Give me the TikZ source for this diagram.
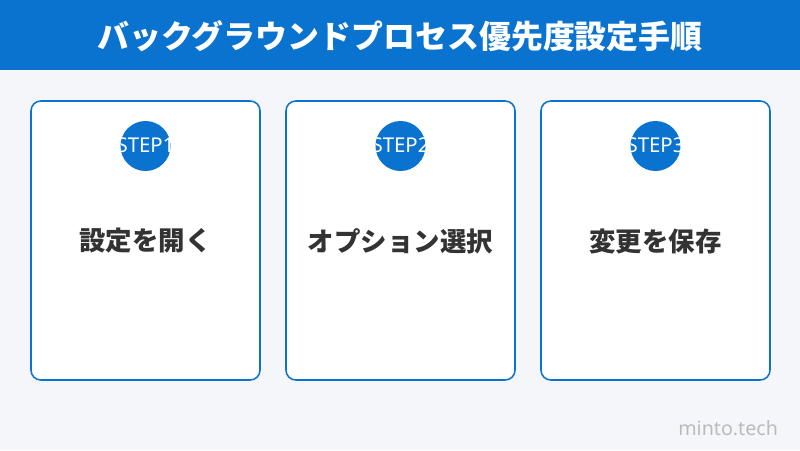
\documentclass[tikz,border=0pt]{standalone}
\usepackage{fontspec}
\setmainfont{Noto Sans CJK JP}
\newfontfamily\stepfont{Noto Sans}
\usetikzlibrary{positioning}
\definecolor{mainblue}{HTML}{0A73D0}
\definecolor{bggray}{HTML}{F4F6FA}
\definecolor{textdark}{HTML}{333333}
\definecolor{markgray}{HTML}{BBBBBB}
\tikzset{
  card/.style={draw=mainblue, line width=1.1pt, fill=white, rounded corners=7pt},
  stepdot/.style={circle, fill=mainblue, minimum size=50*0.025cm, inner sep=0pt},
  cardlabel/.style={font=\fontsize{18.8}{22}\selectfont\bfseries, text=textdark}
}
\begin{document}
\begin{tikzpicture}[x=0.025cm, y=-0.025cm]

  % background
  \fill[bggray] (0,0) rectangle (800,450);
  \useasboundingbox (0,0) rectangle (800,450);

  % title bar
  \fill[mainblue] (0,0) rectangle (800,70);
  \node[font=\fontsize{22.7}{26}\selectfont\bfseries, text=white] (title) at (400,36)
    {バックグラウンドプロセス優先度設定手順};

  % three step cards
  \foreach \i/\x/\txt in {1/31/設定を開く, 2/286/オプション選択, 3/541/変更を保存}{
    \draw[card] (\x,101) rectangle ++(229,279);
    \node[stepdot] (step\i) at (\x+114.5,146) {};
    \begin{scope}
      \clip (\x+114.5,146) circle (25);
      \node[font=\stepfont\fontsize{14.5}{16}\selectfont, text=white] (steptext\i) at (\x+114.5,145) {STEP\i};
    \end{scope}
    \node[cardlabel] (label\i) at (\x+114.5,241) {\txt};
  }

  % watermark
  \node[font=\stepfont\fontsize{14}{16}\selectfont, text=markgray, anchor=east] (mark) at (783,428) {minto.tech};

\end{tikzpicture}
\end{document}
